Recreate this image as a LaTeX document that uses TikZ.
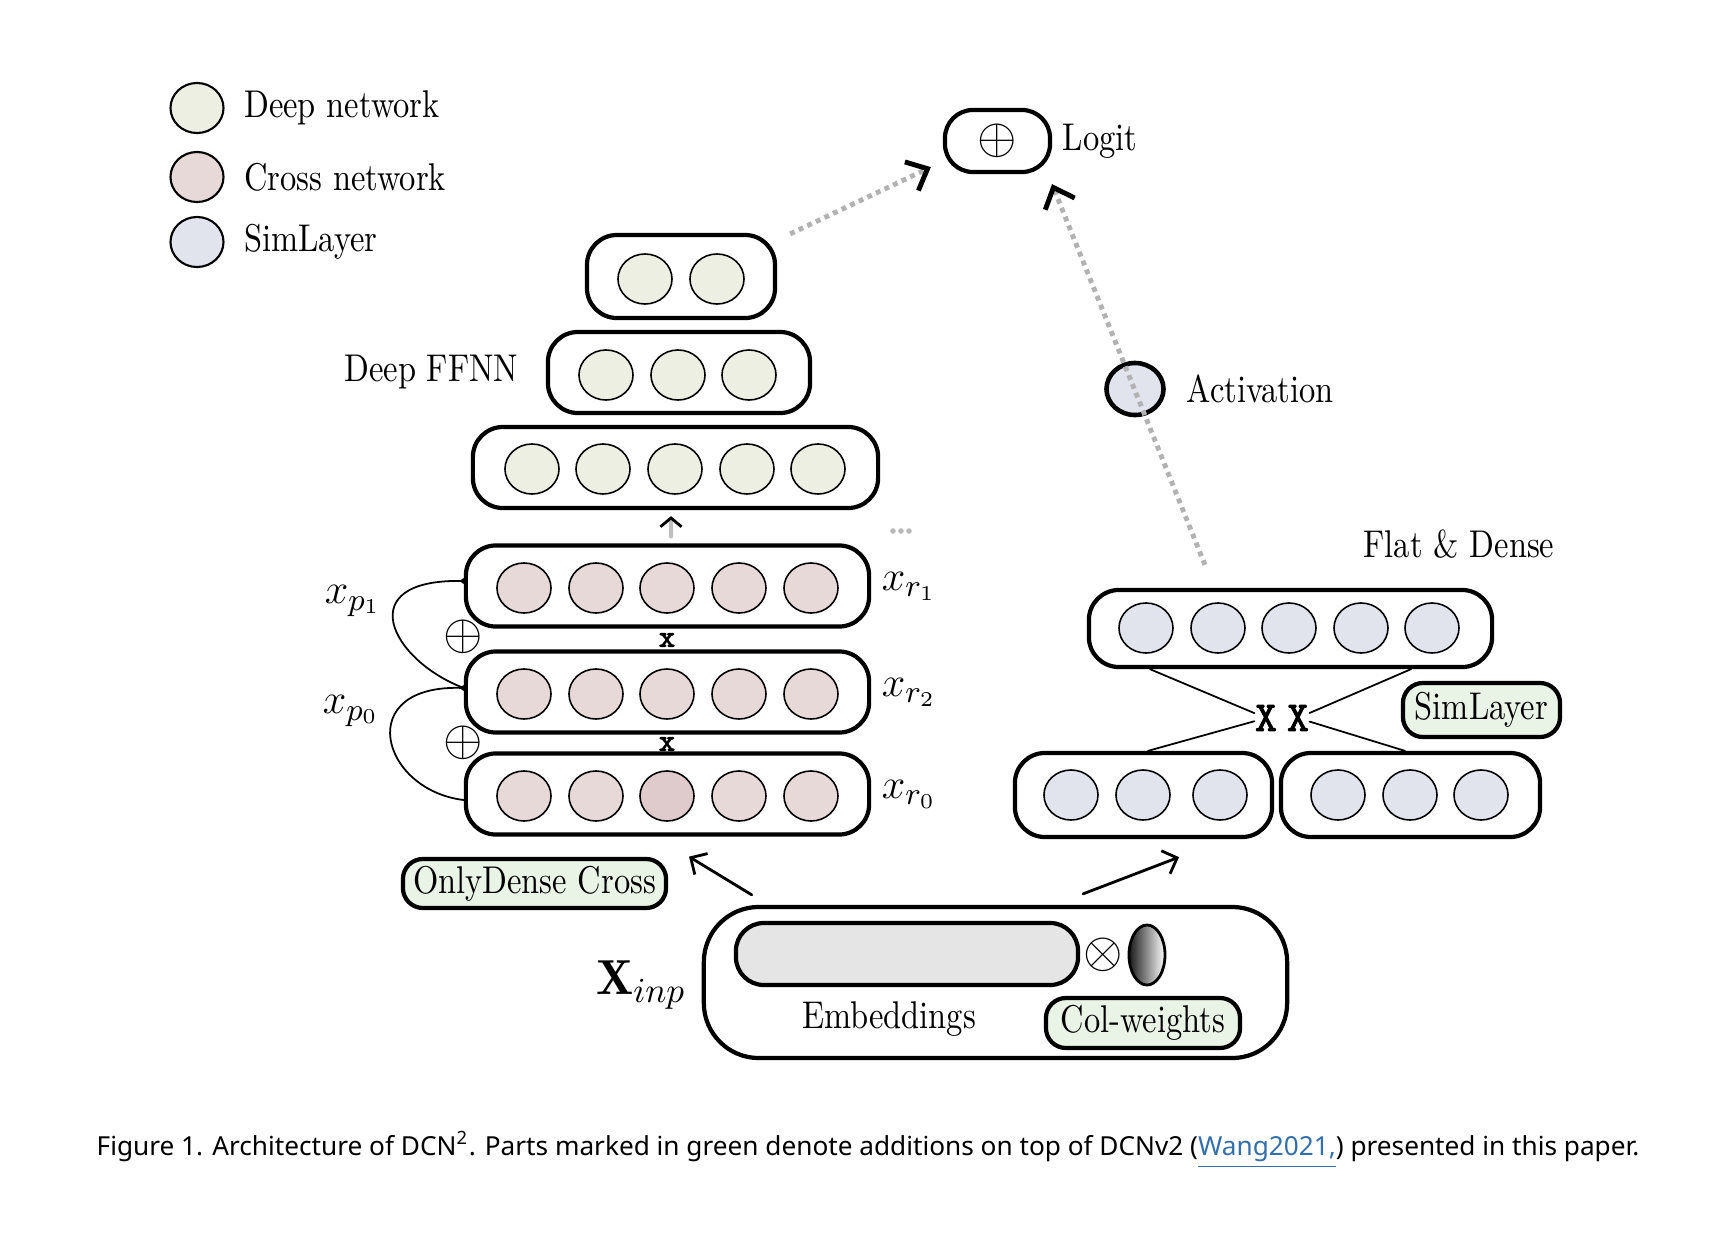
\documentclass[tikz,border=0pt]{standalone}
\usepackage{fontspec}
\newfontfamily\capfont{Noto Sans}
\newfontfamily\labelfont{Latin Modern Roman}[FakeStretch=0.84]
\newfontfamily\multfont{Latin Modern Mono}[FakeBold=2.5]
\usetikzlibrary{positioning,shapes.geometric,arrows.meta}

\begin{document}
\begin{tikzpicture}[x=0.01cm, y=-0.01cm, line cap=round, line join=round,
    unit/.style={ellipse, draw, line width=0.45pt, minimum width=0.54cm, minimum height=0.5cm, inner sep=0pt},
    layer/.style={draw, line width=1.2pt, rounded corners=0.3cm, inner sep=0pt},
    addbox/.style={draw, line width=1.2pt, rounded corners=0.2cm, fill=addgreen, inner sep=0pt, font=\labelfont\fontsize{11}{12}\selectfont},
    lbl/.style={font=\labelfont\fontsize{11}{12}\selectfont, inner sep=0pt},
    mlbl/.style={font=\fontsize{12.5}{14}\selectfont, inner sep=0pt},
    opsym/.style={font=\fontsize{14}{14}\selectfont, inner sep=0pt},
    mulsym/.style={font=\multfont\fontsize{9}{9}\selectfont, inner sep=0pt},
    bigmul/.style={font=\multfont\fontsize{12}{12}\selectfont, inner sep=0pt},
    flow/.style={draw=gray!60, line width=1.4pt, line cap=butt, dash pattern=on 1.4pt off 1.3pt,
      -{Straight Barb[black, line width=1.4pt, length=5pt, width=9pt]}},
    feed/.style={line width=0.8pt, -{Straight Barb[length=3.5pt, width=7pt]}}]
  \definecolor{deepc}{RGB}{237,239,226}
  \definecolor{crossc}{RGB}{232,217,217}
  \definecolor{crossdark}{RGB}{223,203,204}
  \definecolor{simc}{RGB}{225,228,237}
  \definecolor{addgreen}{RGB}{234,244,230}
  \definecolor{embgray}{RGB}{229,229,229}
  \definecolor{linkblue}{RGB}{52,112,168}
  \useasboundingbox (0,0) rectangle (1720,1236);

  % legend
  \foreach \c/\t/\y [count=\n] in {deepc/Deep network/108, crossc/Cross network/177, simc/SimLayer/242}{
    \node[unit, fill=\c, minimum width=0.53cm, line width=0.6pt] (leg\n) at (197,\y) {};
    \node[lbl, right=0.19cm of leg\n] (legtxt\n) {\t};
  }

  % output
  \node[layer, minimum width=1.05cm, minimum height=0.62cm, rounded corners=0.28cm, font=\fontsize{15}{15}\selectfont] (logit) at (997.5,141) {$\oplus$};
  \node[lbl, right=0.1cm of logit] (logittxt) {Logit};

  % deep network
  \node[layer, minimum width=1.88cm, minimum height=0.83cm] (deep3) at (681,276.5) {};
  \node[layer, minimum width=2.62cm, minimum height=0.81cm] (deep2) at (679,372.5) {};
  \node[layer, minimum width=4.05cm, minimum height=0.81cm] (deep1) at (675.5,467.5) {};
  \foreach \x [count=\i] in {645,717} \node[unit, fill=deepc] (d3-\i) at (\x,279) {};
  \foreach \x [count=\i] in {606,678,749} \node[unit, fill=deepc] (d2-\i) at (\x,375) {};
  \foreach \x [count=\i] in {532,603,675,747,818} \node[unit, fill=deepc] (d1-\i) at (\x,469) {};
  \node[lbl, left=0.27cm of deep2] (ffnn) {Deep FFNN};

  % cross network
  \foreach \n/\y/\midc in {1/586/crossc, 2/692/crossc, 0/794/crossdark}{
    \node[layer, minimum width=4.03cm, minimum height=0.81cm] (cr\n) at (667.5,\y) {};
    \foreach \x/\c [count=\i] in {524/crossc,596/crossc,667/\midc,739/crossc,811/crossc}
      \node[unit, fill=\c] (c\n-\i) at (\x,\y+2) {};
    \node[mlbl, right=0.1cm of cr\n] (xr\n) {$x_{r_\n}$};
  }
  \node[mulsym] (m12) at (667,640) {x};
  \node[mulsym] (m01) at (667,744) {x};
  \node[opsym] (add1) at (463,637) {$\oplus$};
  \node[opsym] (add0) at (463,743) {$\oplus$};
  \coordinate (skip1) at ([yshift=0.05cm]cr1.west);
  \coordinate (skip0) at ([yshift=0.04cm]cr2.west);
  \draw[line width=0.5pt] (skip1) .. controls (350,578) and (390,660) .. (skip0);
  \draw[line width=0.5pt] (skip0) .. controls (352,683) and (380,790) .. ([yshift=-0.06cm]cr0.west);
  \fill (skip1) circle (0.028cm);
  \fill (skip0) circle (0.028cm);
  \node[mlbl] (xp1) at (353,601) {$x_{p_1}$};
  \node[mlbl] (xp0) at (351,711) {$x_{p_0}$};
  \draw[gray!50, line width=1.2pt, shorten <=0.07cm, shorten >=0.06cm, -{Straight Barb[black, line width=0.8pt, length=2.5pt, width=6pt]}]
    ([xshift=0.035cm]cr1.north) -- ([xshift=-0.045cm]deep1.south);
  \foreach \k in {-1,0,1} \fill[gray!55] ({901+8*\k},531) circle (0.028cm);
  \node[addbox, minimum width=2.63cm, minimum height=0.49cm] (odc) at (534.5,883.5) {OnlyDense Cross};

  % flat & dense
  \node[lbl] (fdtxt) at (1459,544) {Flat \& Dense};
  \node[layer, minimum width=4.03cm, minimum height=0.77cm] (fdtop) at (1290.5,628.5) {};
  \node[layer, minimum width=2.57cm, minimum height=0.84cm] (slL) at (1143.5,795) {};
  \node[layer, minimum width=2.59cm, minimum height=0.84cm] (slR) at (1410.5,795) {};
  \foreach \x [count=\i] in {1146,1218,1289,1361,1432} \node[unit, fill=simc] (f-\i) at (\x,628) {};
  \foreach \x [count=\i] in {1071,1143,1220} \node[unit, fill=simc] (sl-\i) at (\x,795) {};
  \foreach \x [count=\i] in {1338,1410,1481} \node[unit, fill=simc] (sr-\i) at (\x,795) {};
  \node[bigmul] (xl) at (1266,718) {X};
  \node[bigmul] (xr) at (1298,718) {X};
  \draw[line width=0.5pt] ([xshift=-1.405cm]fdtop.south) -- (xl);
  \draw[line width=0.5pt] ([xshift=0.045cm]slL.north) -- (xl);
  \draw[line width=0.5pt] ([xshift=1.205cm]fdtop.south) -- (xr);
  \draw[line width=0.5pt] ([xshift=-0.055cm]slR.north) -- (xr);
  \node[addbox, minimum width=1.57cm, minimum height=0.54cm] (simtag) at (1481.5,710) {SimLayer};

  % activation and links to the logit
  \node[unit, fill=simc, minimum width=0.57cm, minimum height=0.52cm, line width=1.3pt] (act) at (1135,389) {};
  \node[lbl, right=0.2cm of act] (acttxt) {Activation};
  \draw[flow] ([shift={(0.13cm,-0.01cm)}]deep3.north east) -- ([shift={(-0.12cm,0.07cm)}]logit.south west);
  \draw[flow] ([shift={(-0.855cm,0.23cm)}]fdtop.north) -- ([shift={(0.545cm,-0.1cm)}]logit.south);

  % input
  \node[layer, minimum width=5.83cm, minimum height=1.51cm, rounded corners=0.55cm] (inp) at (995.5,982.5) {};
  \node[layer, fill=embgray, minimum width=3.42cm, minimum height=0.62cm, rounded corners=0.28cm] (emb) at (907,954) {};
  \node[opsym] (mult) at (1103,955) {$\otimes$};
  \node[ellipse, draw, line width=0.8pt, minimum width=0.36cm, minimum height=0.6cm, inner sep=0pt,
    left color=black!90, right color=white] (colw) at (1147,955) {};
  \node[addbox, minimum width=1.94cm, minimum height=0.5cm] (colwtag) at (1143,1023) {Col-weights};
  \node[lbl] (embtxt) at (889,1019) {Embeddings};
  \node[font=\fontsize{14}{16}\selectfont, inner sep=0pt] (xinp) at (641,985) {$\mathbf{X}_{inp}$};
  \draw[feed] ([shift={(0.5cm,0.1cm)}]inp.north west) -- ([shift={(0.215cm,-0.2cm)}]cr0.south);
  \draw[feed] ([shift={(-2.06cm,0.11cm)}]inp.north east) -- ([shift={(0.355cm,-0.18cm)}]slL.south);

  \node[font=\capfont\fontsize{7.45}{9}\selectfont, inner sep=0pt] (caption) at (868,1150)
    {Figure 1. Architecture of DCN\textsuperscript{2}. Parts marked in green denote additions on top of DCNv2 (\textcolor{linkblue}{\underline{Wang2021,}}) presented in this paper.};
\end{tikzpicture}
\end{document}
